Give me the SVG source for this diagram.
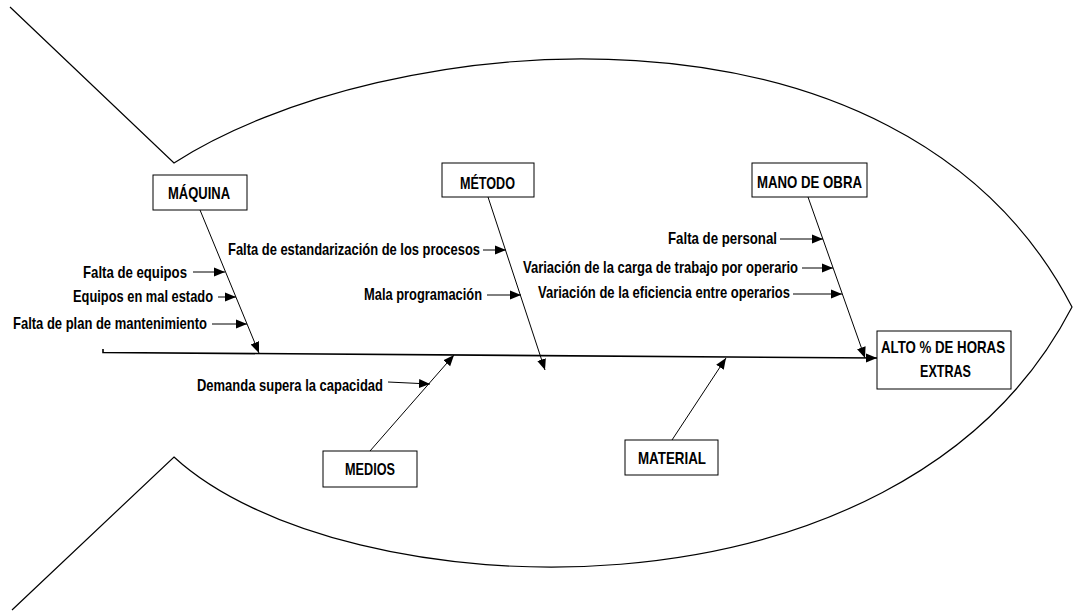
<svg xmlns="http://www.w3.org/2000/svg" width="1074" height="611" viewBox="0 0 1074 611">
<defs>
<marker id="ah" markerUnits="userSpaceOnUse" markerWidth="12" markerHeight="10" viewBox="0 0 12 10" refX="11" refY="5" orient="auto">
<path d="M0,0.5 L11,5 L0,9.5 Z" fill="#000"/>
</marker>
<style>
.fish{fill:none;stroke:#000;stroke-width:1.2}
.bone{fill:none;stroke:#000;stroke-width:1;marker-end:url(#ah)}
.spine{fill:none;stroke:#000;stroke-width:1.6;marker-end:url(#ah)}
.box{fill:#fff;stroke:#000;stroke-width:1}
text{font-family:"Liberation Sans Narrow","Liberation Sans",Arial,sans-serif;font-weight:bold;font-size:17px;fill:#000}
</style>
</defs>
<rect width="1074" height="611" fill="#fff"/>
<g id="fish">
<path class="fish" d="M10,7 L174,163 C380,30 900,-25 1072,307 C900,640 340,610 174,457 L12,610"/>
</g>
<g id="connectors">
<path class="spine" d="M103,349 V352.5 L877,358"/>
<path class="bone" d="M200,210 L259,353"/>
<path class="bone" d="M488,197 L545,370"/>
<path class="bone" d="M808,197 L865,358"/>
<path class="bone" d="M370,451 L454,355"/>
<path class="bone" d="M672,440 L726,358"/>
<path class="bone" d="M193,272 L225,272"/>
<path class="bone" d="M218,297 L236,297"/>
<path class="bone" d="M212,324 L247,324"/>
<path class="bone" d="M483,250 L506,250"/>
<path class="bone" d="M487,295 L521,295"/>
<path class="bone" d="M780,239 L823,239"/>
<path class="bone" d="M802,268 L833,268"/>
<path class="bone" d="M793,294 L842,294"/>
<path class="bone" d="M388,382 L430,384"/>
</g>
<g id="maquina">
<rect class="box" x="153" y="175" width="94" height="35"/>
<text x="168" y="199" textLength="62" lengthAdjust="spacingAndGlyphs">MÁQUINA</text>
</g>
<g id="metodo">
<rect class="box" x="442" y="163" width="92" height="34"/>
<text x="460" y="189" textLength="55" lengthAdjust="spacingAndGlyphs">MÉTODO</text>
</g>
<g id="mano-de-obra">
<rect class="box" x="752" y="163" width="115" height="34"/>
<text x="757" y="188" textLength="105" lengthAdjust="spacingAndGlyphs">MANO DE OBRA</text>
</g>
<g id="medios">
<rect class="box" x="323" y="451" width="94" height="36"/>
<text x="345" y="475" textLength="50" lengthAdjust="spacingAndGlyphs">MEDIOS</text>
</g>
<g id="material">
<rect class="box" x="625" y="440" width="93" height="35"/>
<text x="638" y="464" textLength="68" lengthAdjust="spacingAndGlyphs">MATERIAL</text>
</g>
<g id="efecto">
<rect class="box" x="877" y="331" width="134" height="58"/>
<text x="881" y="353" textLength="124" lengthAdjust="spacingAndGlyphs">ALTO % DE HORAS</text>
<text x="920" y="377" textLength="51" lengthAdjust="spacingAndGlyphs">EXTRAS</text>
</g>
<g id="causas">
<text x="83" y="278" textLength="104" lengthAdjust="spacingAndGlyphs">Falta de equipos</text>
<text x="73" y="302" textLength="140" lengthAdjust="spacingAndGlyphs">Equipos en mal estado</text>
<text x="13" y="329" textLength="194" lengthAdjust="spacingAndGlyphs">Falta de plan de mantenimiento</text>
<text x="228" y="255" textLength="252" lengthAdjust="spacingAndGlyphs">Falta de estandarización de los procesos</text>
<text x="364" y="300" textLength="118" lengthAdjust="spacingAndGlyphs">Mala programación</text>
<text x="668" y="244" textLength="109" lengthAdjust="spacingAndGlyphs">Falta de personal</text>
<text x="523" y="273" textLength="275" lengthAdjust="spacingAndGlyphs">Variación de la carga de trabajo por operario</text>
<text x="538" y="298" textLength="252" lengthAdjust="spacingAndGlyphs">Variación de la eficiencia entre operarios</text>
<text x="197" y="391" textLength="186" lengthAdjust="spacingAndGlyphs">Demanda supera la capacidad</text>
</g>
</svg>
